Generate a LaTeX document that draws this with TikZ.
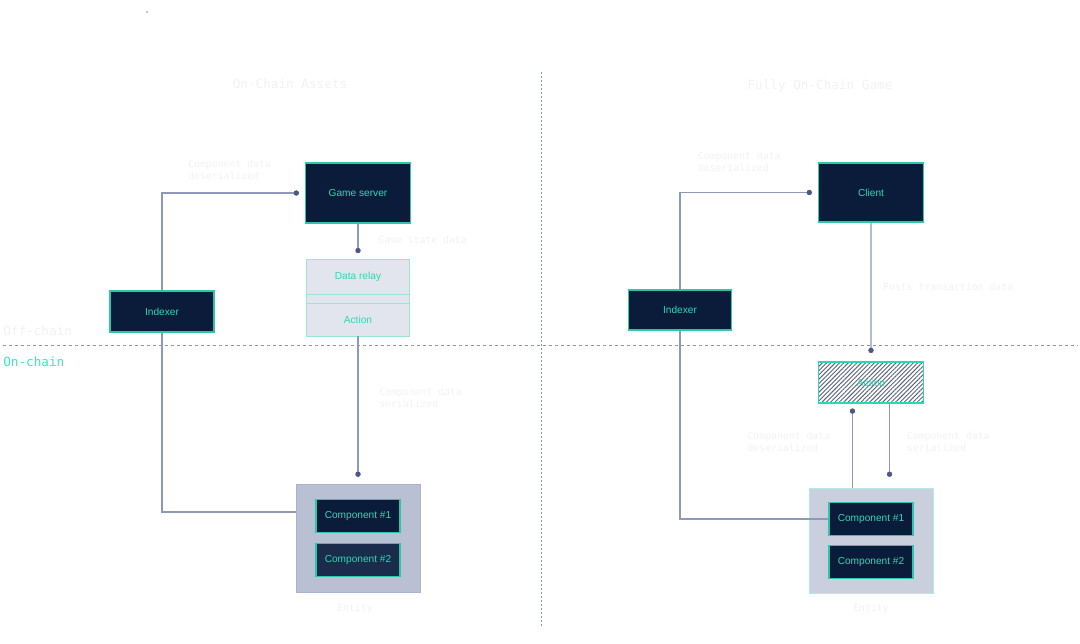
\documentclass[tikz,border=0pt]{standalone}
\usepackage{fontspec}
\setmainfont{Liberation Sans}
\setmonofont{DejaVu Sans Mono}
\usetikzlibrary{arrows.meta,patterns.meta,calc}
\definecolor{navyA}{HTML}{0B1B3A}
\definecolor{navyB}{HTML}{1A2B4B}
\definecolor{tealA}{HTML}{2AD8B6}
\definecolor{tealB}{HTML}{2BC7A8}
\definecolor{tealL}{HTML}{93E8D8}
\definecolor{relayF}{HTML}{E2E5ED}
\definecolor{entLF}{HTML}{B9C0D3}
\definecolor{entLB}{HTML}{A9B2C8}
\definecolor{entRF}{HTML}{C9CFDC}
\definecolor{entRB}{HTML}{B2EADF}
\definecolor{lineC}{HTML}{8E99B9}
\definecolor{lineT}{HTML}{B4BCCF}
\definecolor{dotC}{HTML}{4A5887}
\definecolor{dashC}{HTML}{8A93B0}
\definecolor{faint}{HTML}{F1F1F1}
\definecolor{hatchC}{HTML}{5C6478}
\definecolor{onC}{HTML}{3BE6C6}
\begin{document}
\begin{tikzpicture}[x=0.75pt,y=-0.75pt,
  box/.style={draw=tealB, line width=0.8pt, fill=navyA, text=tealA,
    font=\fontsize{7.6}{9}\selectfont, inner sep=0pt},
  relaybox/.style={draw=tealL, line width=0.7pt, fill=relayF, text=tealA,
    font=\fontsize{7.6}{9}\selectfont, inner sep=0pt, minimum width=77.25pt},
  lbl/.style={text=faint, font=\ttfamily\fontsize{7.35}{9}\selectfont,
    align=left, anchor=west, inner sep=0pt},
  title/.style={text=faint, font=\ttfamily\fontsize{9.5}{11}\selectfont, inner sep=0pt},
  conn/.style={draw=lineC, line width=0.8pt},
  connthick/.style={draw=lineT, line width=1.5pt},
  dotend/.style={-{Circle[length=4pt,width=4pt,color=dotC,line width=0.5pt]}},
  dashline/.style={draw=dashC, line width=0.75pt, dash pattern=on 2.5pt off 2pt}
]
\useasboundingbox (0,0) rectangle (1080,643);

% tiny dot
\fill[black] (147,12) circle (0.7);

% dividers
\draw[dashline] (3,345) -- (1078,345);
\draw[dashline, dash pattern=on 1.5pt off 1.5pt] (541,72) -- (541,628);

% titles and zone labels
\node[title] (t1) at (290,84) {On-Chain Assets};
\node[title] (t2) at (820,86) {Fully On-Chain Game};
\node[title, anchor=west] (off) at (3,331) {Off-chain};
\node[title, anchor=west, text=onC] (on) at (3,361.5) {On-chain};

% ---------- left ----------
\node[box, minimum width=78.75pt, minimum height=45pt] (gs) at (358,193) {Game server};
\node[box, minimum width=78pt, minimum height=30.75pt] (idxL) at (162,311.5) {Indexer};
\node[relaybox, minimum height=26.25pt] (relay) at (358,276.5) {Data relay};
\node[relaybox, minimum height=6.75pt] (strip) at (358,298.5) {};
\node[relaybox, minimum height=24.75pt] (actL) at (358,319.5) {Action};
\node[draw=entLB, fill=entLF, line width=0.7pt, minimum width=93pt, minimum height=81pt] (entL) at (358,538) {};
\node[box, minimum width=63pt, minimum height=24.75pt] (c1L) at (358,516) {Component \#1};
\node[box, fill=navyB, minimum width=63pt, minimum height=24.75pt] (c2L) at (358,560) {Component \#2};

\draw[conn, dotend, shorten >=4.5pt] (idxL.north) |- (gs.west);
\draw[conn] (idxL.south) |- ([yshift=19.5pt]entL.west);
\draw[conn, dotend, shorten >=4pt] (gs.south) -- (relay.north);
\draw[conn, dotend, shorten >=5pt] (actL.south) -- (entL.north);

\node[lbl] (l1) at (188,170) {Component data\\deserialized};
\node[lbl] (l2) at (378,240) {Game state data};
\node[lbl] (l3) at (379,397.5) {Component data\\serialized};
\node[lbl, anchor=center] (l4) at (355,609) {Entity};

% ---------- right ----------
\node[box, minimum width=78.75pt, minimum height=44.25pt] (client) at (871,192.5) {Client};
\node[box, minimum width=77.25pt, minimum height=30pt] (idxR) at (680,310) {Indexer};
\node[draw=tealA, line width=0.9pt, preaction={fill=white},
  pattern={Lines[angle=45,distance=2.3pt,line width=0.7pt]}, pattern color=hatchC,
  text=tealA, font=\fontsize{7.6}{9}\selectfont, inner sep=0pt,
  minimum width=78.75pt, minimum height=30.75pt] (actR) at (871,382.5) {Action};
\node[draw=entRB, fill=entRF, line width=0.7pt, minimum width=93pt, minimum height=78.75pt] (entR) at (871,540.5) {};
\node[box, minimum width=63pt, minimum height=24.75pt] (c1R) at (871,519) {Component \#1};
\node[box, minimum width=63pt, minimum height=24.75pt] (c2R) at (871,562) {Component \#2};

\draw[conn, dotend, shorten >=4.5pt] (idxR.north) |- (client.west);
\draw[conn] (idxR.south) |- (c1R.west);
\draw[connthick, dotend, shorten >=6.4pt] (client.south) -- (actR.north);
\draw[conn, dotend, shorten >=3.7pt] ([xshift=-13.9pt]entR.north) -- ([xshift=-13.9pt]actR.south);
\draw[conn, dotend, shorten >=8pt] ([xshift=13.9pt]actR.south) -- ([xshift=13.9pt]entR.north);

\node[lbl] (r1) at (697.7,162) {Component data\\deserialized};
\node[lbl] (r2) at (883,287) {Posts transaction data};
\node[lbl] (r3) at (747.3,442) {Component data\\deserialized};
\node[lbl] (r4) at (906.7,442) {Component data\\serialized};
\node[lbl, anchor=center] (r5) at (871,609) {Entity};
\end{tikzpicture}
\end{document}
